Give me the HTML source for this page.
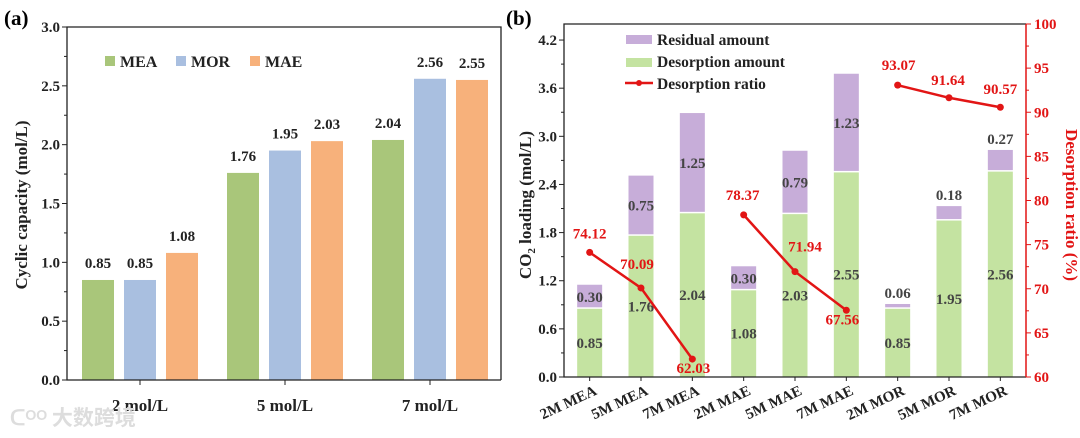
<!DOCTYPE html>
<html><head><meta charset="utf-8"><style>
html,body{margin:0;padding:0;background:#fff;}
svg{display:block;font-family:"Liberation Serif","Noto Serif CJK SC",serif;font-weight:bold;}
</style></head><body>
<svg id="s" width="1080" height="438" viewBox="0 0 1080 438" xmlns="http://www.w3.org/2000/svg">
<text x="4" y="25" font-size="21">(a)</text>
<text x="506" y="25" font-size="21">(b)</text>
<g id="ga"></g>
<g id="gb"></g>
<text x="10" y="425" font-size="21" fill="#ddd" font-family="'Noto Sans CJK SC',sans-serif">ᑕᴼᴼ 大数跨境</text>
</svg>
<script>
// ---- Panel A data ----
const aCats = ["2 mol/L","5 mol/L","7 mol/L"];
const aSeries = ["MEA","MOR","MAE"];
const aMEA = [0.85,1.76,2.04];
const aMOR = [0.85,1.95,2.56];
const aMAE = [1.08,2.03,2.55];
const aLabels = [["0.85","1.76","2.04"],["0.85","1.95","2.56"],["1.08","2.03","2.55"]];
const aTicks = [0,0.5,1.0,1.5,2.0,2.5,3.0];
// ---- Panel B data ----
const bCats = ["2M MEA","5M MEA","7M MEA","2M MAE","5M MAE","7M MAE","2M MOR","5M MOR","7M MOR"];
const bDes = [0.85,1.76,2.04,1.08,2.03,2.55,0.85,1.95,2.56];
const bRes = [0.30,0.75,1.25,0.30,0.79,1.23,0.06,0.18,0.27];
const bRatio = [74.12,70.09,62.03,78.37,71.94,67.56,93.07,91.64,90.57];
const bLeftTicks = [0,0.6,1.2,1.8,2.4,3.0,3.6,4.2];
const bRightTicks = [60,65,70,75,80,85,90,95,100];
const ratioOffsets = [[0,-19],[-4,-24],[1,9],[-1,-20],[10,-25],[-4,9],[1,-20],[-1,-18],[0,-18]];

const NS="http://www.w3.org/2000/svg";
function mk(p,tag,attrs,txt){const e=document.createElementNS(NS,tag);for(const k in attrs)e.setAttribute(k,attrs[k]);if(txt!==undefined)e.textContent=txt;p.appendChild(e);return e;}

// Panel A
const ga=document.getElementById('ga');
const aL=67,aR=501,aT=27,aB=380,aMax=3.0;
const ay=v=>aB-(v/aMax)*(aB-aT);
const aGroupX=i=>140+145*i;
const aCols=["#a9c67a","#a9bfe0","#f7b17b"];
const aData=[aMEA,aMOR,aMAE];
for(let s=0;s<3;s++){for(let i=0;i<3;i++){
  const cx=aGroupX(i)+(s-1)*42, v=aData[s][i];
  const r=mk(ga,'rect',{x:cx-16,y:ay(v),width:32,height:aB-ay(v),fill:aCols[s]});
  
  
  const t=mk(ga,'text',{x:cx,y:ay(v)-12,'font-size':15,'text-anchor':'middle',fill:'#222'},aLabels[s][i]);
  
  
}}
mk(ga,'path',{d:`M${aR} ${aB}V${aT}H${aL}V${aB}H${aR}`,stroke:'#222','stroke-width':1.3,fill:'none'});
aTicks.forEach(v=>{
  mk(ga,'line',{x1:aL,x2:aL-5,y1:ay(v),y2:ay(v),stroke:'#222'});
  const t=mk(ga,'text',{x:aL-7,y:ay(v)+5,'font-size':15,'text-anchor':'end',fill:'#222'},v.toFixed(1));
  
  
  if(v<aMax)mk(ga,'line',{x1:aL,x2:aL-3,y1:ay(v+0.25),y2:ay(v+0.25),stroke:'#222'});
});
aCats.forEach((c,i)=>{
  mk(ga,'line',{x1:aGroupX(i),x2:aGroupX(i),y1:aB,y2:aB+5,stroke:'#222'});
  const t=mk(ga,'text',{x:aGroupX(i),y:411,'font-size':17,'text-anchor':'middle',fill:'#222'},c);
  
  
});
const at=mk(ga,'text',{x:0,y:0,'font-size':17,'text-anchor':'middle',fill:'#222',transform:'translate(27,205) rotate(-90)'},'Cyclic capacity (mol/L)');


[[105,"MEA"],[176,"MOR"],[250,"MAE"]].forEach((p,s)=>{
  const r=mk(ga,'rect',{x:p[0],y:56,width:10,height:10,fill:aCols[s]});
  
  
  const t=mk(ga,'text',{x:p[0]+15,y:67,'font-size':16,fill:'#222'},p[1]);
  
  
});

// Panel B
const gb=document.getElementById('gb');
const bL=564,bR=1026,bT=24,bB=377,bMax=4.4;
const by=v=>bB-(v/bMax)*(bB-bT);
const ry=v=>bB-((v-60)/40)*(bB-bT);
const bw=(bR-bL)/bCats.length;
const bx=i=>bL+bw*(i+0.5);
bCats.forEach((c,i)=>{
  const x=bx(i)-12.5;
  const g=mk(gb,'rect',{x:x,y:by(bDes[i]),width:25,height:bB-by(bDes[i]),fill:'#c4e3a1'});
  
  
  const p=mk(gb,'rect',{x:x,y:by(bDes[i]+bRes[i]),width:25,height:by(bDes[i])-by(bDes[i]+bRes[i])-1.5,fill:'#c7add9'});
  
  
  const t1=mk(gb,'text',{x:bx(i),y:(by(bDes[i])+bB)/2+5,'font-size':15,'text-anchor':'middle',fill:'#444'},bDes[i].toFixed(2));
  
  
  const small=bRes[i]<0.28;
  const ty=small?by(bDes[i]+bRes[i])-6:(by(bDes[i])+by(bDes[i]+bRes[i]))/2+5;
  const t2=mk(gb,'text',{x:bx(i),y:ty,'font-size':15,'text-anchor':'middle',fill:'#444'},bRes[i].toFixed(2));
  
  
});
for(let g=0;g<3;g++){
  const pts=[0,1,2].map(k=>bx(g*3+k)+','+ry(bRatio[g*3+k])).join(' ');
  const l=mk(gb,'polyline',{points:pts,fill:'none',stroke:'#e21515','stroke-width':2.5});
  
  
}
bRatio.forEach((v,i)=>{
  const c=mk(gb,'circle',{cx:bx(i),cy:ry(v),r:3.5,fill:'#e21515'});
  
  
  const t=mk(gb,'text',{x:bx(i)+ratioOffsets[i][0],y:ry(v)+ratioOffsets[i][1]+5,'font-size':15,'text-anchor':'middle',fill:'#e21515'},v.toFixed(2));
  
  
});
mk(gb,'path',{d:`M${bR} ${bT}H${bL}V${bB}H${bR}`,stroke:'#222','stroke-width':1.3,fill:'none'});
mk(gb,'line',{x1:bR,x2:bR,y1:bT,y2:bB,stroke:'#e21515','stroke-width':1.5});
bLeftTicks.forEach(v=>{
  mk(gb,'line',{x1:bL,x2:bL-5,y1:by(v),y2:by(v),stroke:'#222'});
  if(v+0.3<bMax)mk(gb,'line',{x1:bL,x2:bL-3,y1:by(v+0.3),y2:by(v+0.3),stroke:'#222'});
  const t=mk(gb,'text',{x:bL-7,y:by(v)+5,'font-size':15,'text-anchor':'end',fill:'#222'},v.toFixed(1));
  
  
});
bRightTicks.forEach(v=>{
  mk(gb,'line',{x1:bR,x2:bR+5,y1:ry(v),y2:ry(v),stroke:'#e21515'});
  if(v<100)mk(gb,'line',{x1:bR,x2:bR+3,y1:ry(v+2.5),y2:ry(v+2.5),stroke:'#e21515'});
  const t=mk(gb,'text',{x:bR+8,y:ry(v)+5,'font-size':15,fill:'#e21515'},String(v));
  
  
});
bCats.forEach((c,i)=>{
  mk(gb,'line',{x1:bx(i),x2:bx(i),y1:bB,y2:bB+4,stroke:'#222'});
  const t=mk(gb,'text',{x:0,y:0,'font-size':15,'text-anchor':'end',fill:'#222',transform:`translate(${bx(i)+8},394) rotate(-25)`},c);
  
  
});
const lt=mk(gb,'text',{x:0,y:0,'font-size':17,'text-anchor':'middle',fill:'#222',transform:'translate(531,205) rotate(-90)'});


mk(lt,'tspan',{},'CO');mk(lt,'tspan',{'font-size':11,dy:4},'2');mk(lt,'tspan',{dy:-4},' loading (mol/L)');
const rt=mk(gb,'text',{x:0,y:0,'font-size':17,'text-anchor':'middle',fill:'#e21515',transform:'translate(1066,205) rotate(90)'},'Desorption ratio (%)');


const lg1=mk(gb,'rect',{x:626,y:35,width:26,height:9,fill:'#c7add9'});

const lg2=mk(gb,'rect',{x:626,y:58,width:26,height:9,fill:'#c4e3a1'});

mk(gb,'line',{x1:625,x2:653,y1:83,y2:83,stroke:'#e21515','stroke-width':2.5});
mk(gb,'circle',{cx:639,cy:83,r:3,fill:'#e21515'});
[["Residual amount",45],["Desorption amount",67],["Desorption ratio",89]].forEach(p=>{
  const t=mk(gb,'text',{x:657,y:p[1],'font-size':15.5,fill:'#222'},p[0]);
  
  
});
</script>
</body></html>
